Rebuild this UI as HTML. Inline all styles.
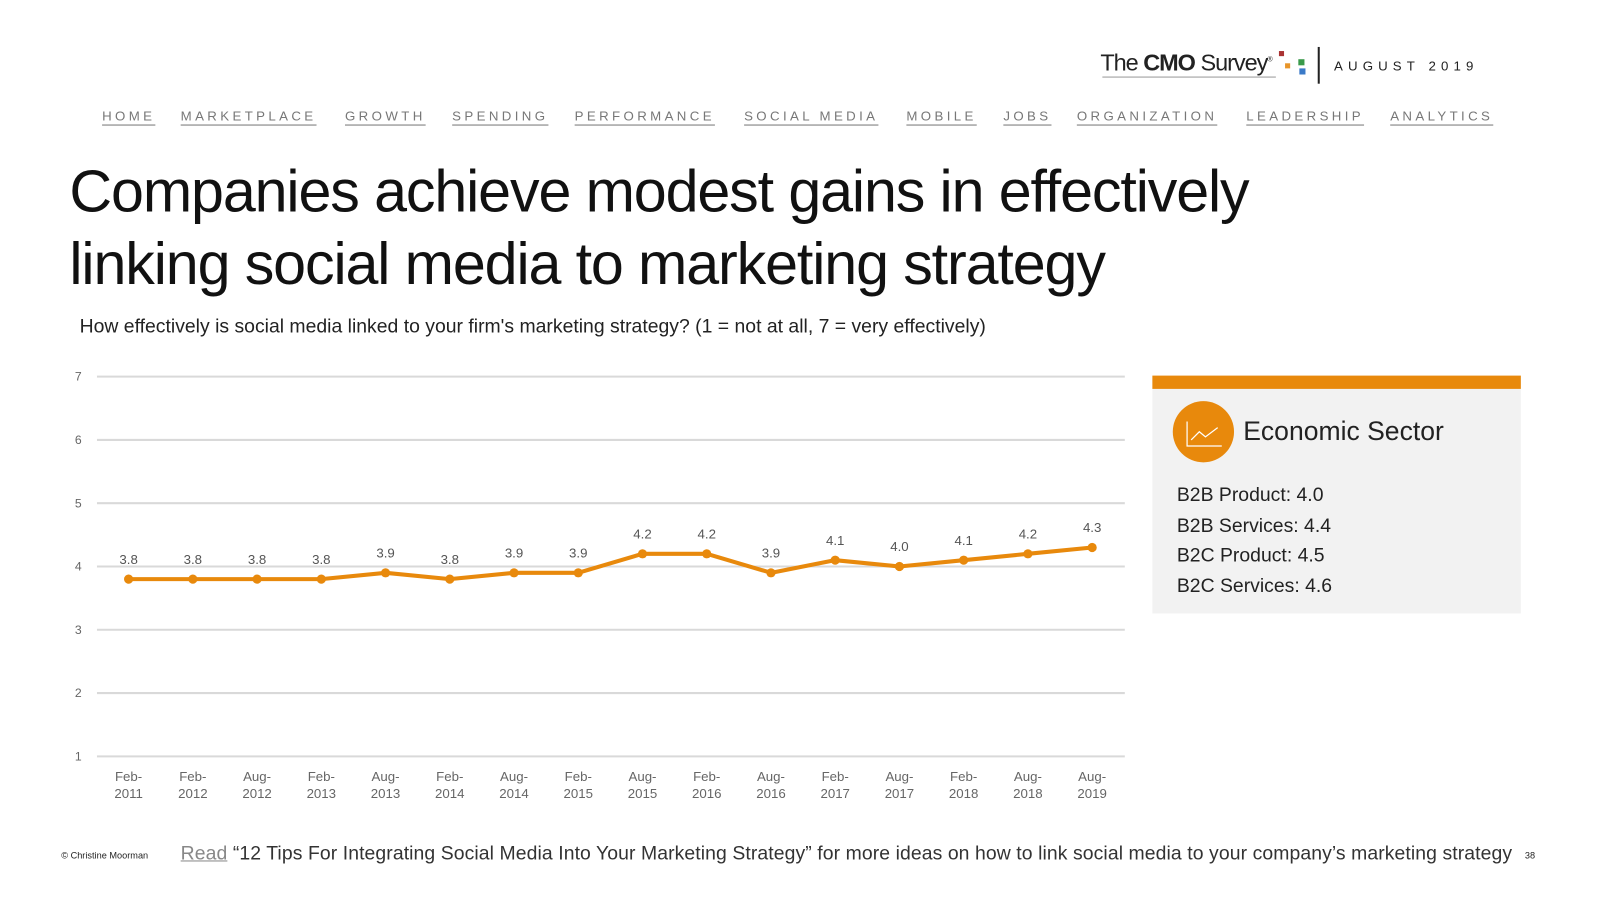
<!DOCTYPE html>
<html><head><meta charset="utf-8">
<style>
body{margin:0;width:1600px;height:900px;background:#fff;font-family:"Liberation Sans",sans-serif;position:relative;overflow:hidden}
#wrap{position:absolute;left:0;top:0;width:1560px;height:880px;transform:scale(1.0207);transform-origin:0 0}
.abs{position:absolute}
.nav a{position:absolute;top:106px;font-size:13px;letter-spacing:3.3px;color:#777;text-decoration:underline;text-underline-offset:4px;white-space:nowrap}
h1{position:absolute;left:68px;top:152px;margin:0;font-weight:normal;font-size:58px;line-height:71px;color:#111;letter-spacing:-1.1px}
</style></head><body>
<div id="wrap">
<div class="abs" style="left:1078px;top:48px;font-size:23px;color:#222;letter-spacing:-1px">The <b>CMO</b> Survey<sup style="font-size:7px">®</sup></div>
<div class="abs" style="left:1080px;top:75px;width:170px;height:1px;background:#999"></div>
<div class="abs" style="left:1253px;top:50px;width:5px;height:5px;background:#a33"></div>
<div class="abs" style="left:1259px;top:62px;width:5px;height:5px;background:#e8952a"></div>
<div class="abs" style="left:1272px;top:58px;width:6px;height:6px;background:#3a9a4a"></div>
<div class="abs" style="left:1273px;top:67px;width:6px;height:6px;background:#3a7ac8"></div>
<div class="abs" style="left:1291px;top:46px;width:2px;height:36px;background:#222"></div>
<div class="abs" style="left:1307px;top:57px;font-size:13px;letter-spacing:5px;color:#222">AUGUST 2019</div>
<div class="nav">
<a style="left:100px">HOME</a>
<a style="left:177px">MARKETPLACE</a>
<a style="left:338px">GROWTH</a>
<a style="left:443px">SPENDING</a>
<a style="left:563px">PERFORMANCE</a>
<a style="left:729px">SOCIAL MEDIA</a>
<a style="left:888px">MOBILE</a>
<a style="left:983px">JOBS</a>
<a style="left:1055px">ORGANIZATION</a>
<a style="left:1221px">LEADERSHIP</a>
<a style="left:1362px">ANALYTICS</a>
</div>
<h1>Companies achieve modest gains in effectively<br>linking social media to marketing strategy</h1>
<div class="abs" style="left:78px;top:310px;font-size:19px;color:#222;letter-spacing:0px">How effectively is social media linked to your firm's marketing strategy? (1 = not at all, 7 = very effectively)</div>
<svg class="abs" style="left:0;top:0" width="1560" height="880" id="chart"></svg>
<div class="abs" style="left:1129px;top:368px;width:361px;height:233px;background:#f2f2f2;border-top:13px solid #e8890c;box-sizing:border-box">
<div class="abs" style="left:20px;top:12px;width:60px;height:60px;border-radius:50%;background:#e8890c">
<svg width="60" height="60"><polyline points="14,20 14,44 48,44" fill="none" stroke="#fff" stroke-width="1.2"/><polyline points="18,38 26,30 32,35 44,26" fill="none" stroke="#fff" stroke-width="1.2"/></svg></div>
<div class="abs" style="left:89px;top:26px;font-size:26px;color:#222">Economic Sector</div>
<div class="abs" style="left:24px;top:90px;font-size:19px;line-height:29.5px;color:#222">B2B Product: 4.0<br>B2B Services: 4.4<br>B2C Product: 4.5<br>B2C Services: 4.6</div>
</div>
<div class="abs" style="left:60px;top:833px;font-size:9px;color:#222">© Christine Moorman</div>
<div class="abs" style="left:177px;top:826px;font-size:19px;color:#333;letter-spacing:0.08px;white-space:nowrap"><a style="color:#888;text-decoration:underline">Read</a> “12 Tips For Integrating Social Media Into Your Marketing Strategy” for more ideas on how to link social media to your company’s marketing strategy</div>
<div class="abs" style="left:1494px;top:833px;font-size:9px;color:#222">38</div>
</div>
<script>
const categories=["Feb-2011","Feb-2012","Aug-2012","Feb-2013","Aug-2013","Feb-2014","Aug-2014","Feb-2015","Aug-2015","Feb-2016","Aug-2016","Feb-2017","Aug-2017","Feb-2018","Aug-2018","Aug-2019"];
const values=[3.8,3.8,3.8,3.8,3.9,3.8,3.9,3.9,4.2,4.2,3.9,4.1,4.0,4.1,4.2,4.3];
const yTicks=[1,2,3,4,5,6,7];
const svg=document.getElementById('chart');const NS='http://www.w3.org/2000/svg';
const x0=126,x1=1070,yTop=369,yBot=741;
const xs=i=>x0+i*(x1-x0)/(categories.length-1);
const ys=v=>yBot-(v-1)*(yBot-yTop)/6;
function mk(t,a){const e=document.createElementNS(NS,t);for(const k in a)e.setAttribute(k,a[k]);svg.appendChild(e);return e;}
yTicks.forEach(t=>{const l=mk('line',{x1:95,x2:1102,y1:ys(t),y2:ys(t),stroke:'#d9d9d9','stroke-width':2});


const tx=mk('text',{x:80,y:ys(t)+4,'font-size':12,fill:'#666','text-anchor':'end'});tx.textContent=t;

});
categories.forEach((c,i)=>{const p=c.split('-');
const t=mk('text',{x:xs(i),y:765,'font-size':13,fill:'#666','text-anchor':'middle'});t.textContent=p[0]+'-';


const t2=mk('text',{x:xs(i),y:782,'font-size':13,fill:'#666','text-anchor':'middle'});t2.textContent=p[1];

});
const line=mk('polyline',{points:values.map((v,i)=>xs(i)+','+ys(v)).join(' '),fill:'none',stroke:'#e8890c','stroke-width':4,'stroke-linejoin':'round'});


values.forEach((v,i)=>{const c=mk('circle',{cx:xs(i),cy:ys(v),r:4.5,fill:'#e8890c'});


const t=mk('text',{x:xs(i),y:ys(v)-15,'font-size':13,fill:'#555','text-anchor':'middle'});t.textContent=v.toFixed(1);

});
</script>
</body></html>
